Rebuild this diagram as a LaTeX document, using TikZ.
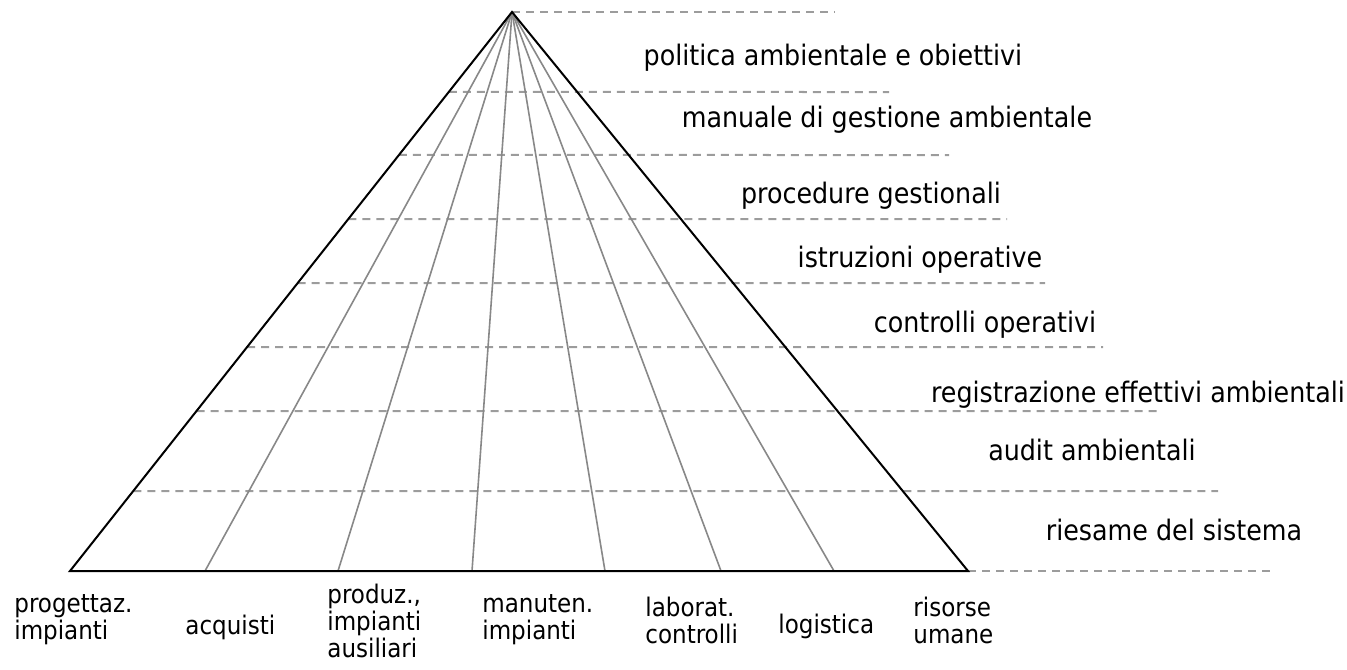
\documentclass[tikz,border=0pt]{standalone}
\usepackage{fontspec}
\setmainfont{DejaVu Sans Condensed}
\usepackage{xcolor}
\usepackage{tikz}
\usetikzlibrary{calc}

\definecolor{raygray}{HTML}{888888}
\definecolor{dashgray}{HTML}{9C9C9C}

\begin{document}
\begin{tikzpicture}[
        x=0.5pt, y=-0.5pt,
        edge/.style={line width=1pt, draw=black},
        ray/.style={line width=0.8pt, draw=raygray},
        guide/.style={line width=1pt, draw=dashgray, dash pattern=on 4pt off 3pt},
        level/.style={anchor=base, inner sep=0pt, font=\fontsize{14.1}{13}\selectfont},
        area/.style={anchor=west, align=left, inner sep=0pt, font=\fontsize{12.8}{13.5}\selectfont}
    ]
        \useasboundingbox (0,0) rectangle (1347,669);

        % ===== 三角形顶点 =====
        \coordinate (apex) at (512,12);
        \coordinate (baseL) at (70,571);
        \coordinate (baseR) at (968,571);

        % ===== 底边分点 =====
        \coordinate (b1) at (205,571);
        \coordinate (b2) at (338,571);
        \coordinate (b3) at (472,571);
        \coordinate (b4) at (605,571);
        \coordinate (b5) at (721,571);
        \coordinate (b6) at (834,571);

        % ===== 虚线起点(左边线上)与终点 =====
        \coordinate (l2) at ($(apex)!0.1431!(baseL)$);
        \coordinate (l3) at ($(apex)!0.2558!(baseL)$);
        \coordinate (l4) at ($(apex)!0.3703!(baseL)$);
        \coordinate (l5) at ($(apex)!0.4848!(baseL)$);
        \coordinate (l6) at ($(apex)!0.5993!(baseL)$);
        \coordinate (l7) at ($(apex)!0.7138!(baseL)$);
        \coordinate (l8) at ($(apex)!0.8569!(baseL)$);
        \coordinate (r1) at (835,12);
        \coordinate (r2) at (889,92);
        \coordinate (r3) at (949,155);
        \coordinate (r4) at (1007,219);
        \coordinate (r5) at (1045,283);
        \coordinate (r6) at (1103,347);
        \coordinate (r7) at (1159,411);
        \coordinate (r8) at (1218,491);
        \coordinate (r9) at (1272,571);

        % ===== 水平虚线 =====
        \draw [guide] (apex) -- (r1);
        \draw [guide] (l2) -- (r2);
        \draw [guide] (l3) -- (r3);
        \draw [guide] (l4) -- (r4);
        \draw [guide] (l5) -- (r5);
        \draw [guide] (l6) -- (r6);
        \draw [guide] (l7) -- (r7);
        \draw [guide] (l8) -- (r8);
        \draw [guide] (baseR) -- (r9);

        % ===== 放射线 =====
        \draw [ray] (apex) -- (b1);
        \draw [ray] (apex) -- (b2);
        \draw [ray] (apex) -- (b3);
        \draw [ray] (apex) -- (b4);
        \draw [ray] (apex) -- (b5);
        \draw [ray] (apex) -- (b6);

        % ===== 三角形 =====
        \draw [edge, line join=miter] (baseL) -- (apex) -- (baseR) -- cycle;

        % ===== 右侧层级文字 =====
        \node (politica) [level] at (833,65) {politica ambientale e obiettivi};
        \node (manuale) [level] at (887,127) {manuale di gestione ambientale};
        \node (procedure) [level] at (871,203) {procedure gestionali};
        \node (istruzioni) [level] at (920,267) {istruzioni operative};
        \node (controlli) [level] at (985,332) {controlli operativi};
        \node (registrazione) [level] at (1138,402) {registrazione effettivi ambientali};
        \node (audit) [level] at (1092,460) {audit ambientali};
        \node (riesame) [level] at (1174,540) {riesame del sistema};

        % ===== 底部区域文字 =====
        \node (progettaz) [area] at (14,620) {progettaz.\\impianti};
        \node (acquisti) [area] at (185,627) {acquisti};
        \node (produz) [area] at (327,621) {produz.,\\impianti\\ausiliari};
        \node (manuten) [area] at (482,620) {manuten.\\impianti};
        \node (laborat) [area] at (645,620) {laborat.\\controlli};
        \node (logistica) [area] at (778,626) {logistica};
        \node (risorse) [area] at (913,620) {risorse\\umane};

    \end{tikzpicture}
\end{document}
